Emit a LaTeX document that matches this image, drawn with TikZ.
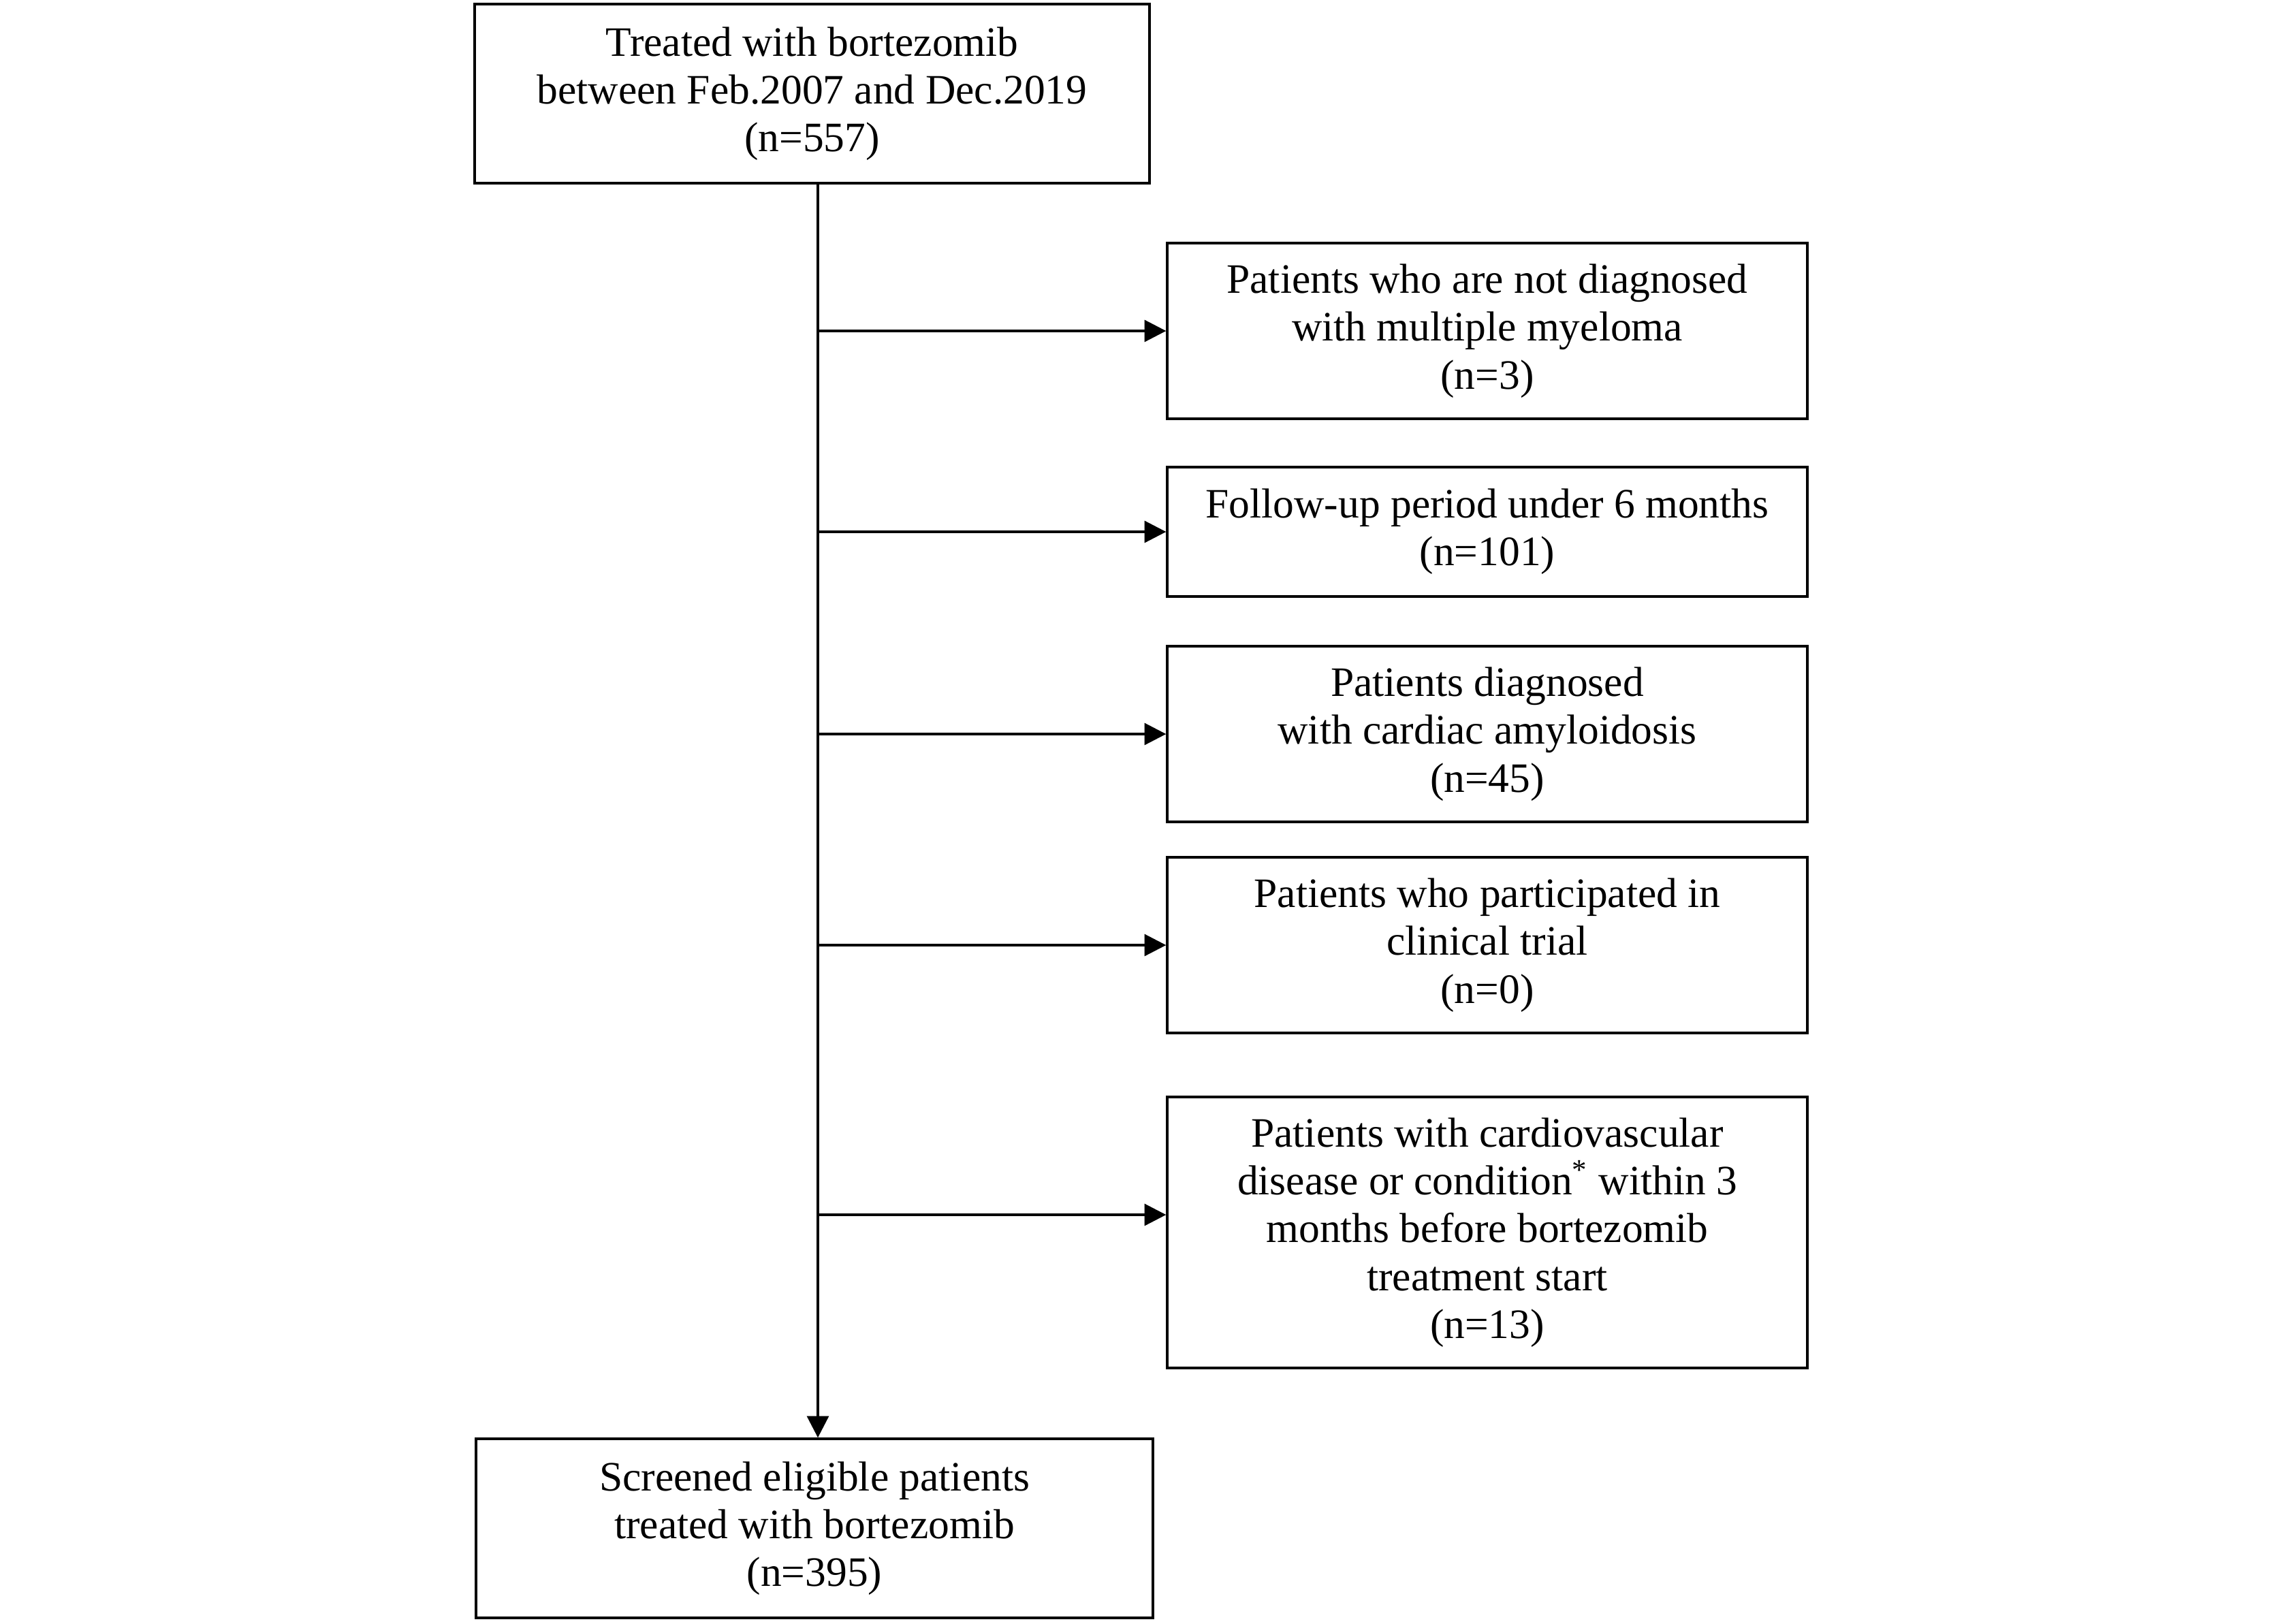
\documentclass[tikz,border=0pt]{standalone}
\usepackage{fontspec}
\setmainfont{Liberation Serif}
\usetikzlibrary{arrows.meta}
\tikzstyle{startstop} = [rectangle, text centered, align=center, draw=black, line width=0.95pt, inner sep=2pt, font=\fontsize{17.5}{20}\selectfont]
\tikzstyle{exclude} = [startstop, minimum width=9.4cm]
\tikzstyle{edge} = [line width=1.1pt, -{Triangle[length=9pt,width=9pt]}]

\begin{document}
\begin{tikzpicture}
\useasboundingbox (0,0) rectangle (33.51,-23.84);

\coordinate (spine) at (12.01,0);

\node (0) [startstop, minimum width=9.91cm, minimum height=2.63cm] at (11.925,-1.375) {Treated with bortezomib\\between Feb.2007 and Dec.2019\\(n=557)};
\node (1) [exclude, minimum height=2.58cm] at (21.84,-4.86) {Patients who are not diagnosed\\with multiple myeloma\\(n=3)};
\node (2) [exclude, minimum height=1.90cm] at (21.84,-7.81) {Follow-up period under 6 months\\(n=101)};
\node (3) [exclude, minimum height=2.58cm] at (21.84,-10.78) {Patients diagnosed\\with cardiac amyloidosis\\(n=45)};
\node (4) [exclude, minimum height=2.58cm] at (21.84,-13.88) {Patients who participated in\\clinical trial\\(n=0)};
\node (5) [exclude, minimum height=3.98cm] at (21.84,-18.10) {Patients with cardiovascular\\disease or condition\textsuperscript{*} within 3\\months before bortezomib\\treatment start\\(n=13)};
\node (6) [startstop, minimum width=9.94cm, minimum height=2.63cm] at (11.96,-22.445) {Screened eligible patients\\treated with bortezomib\\(n=395)};

\draw [edge] (0.south -| spine) -- (6.north -| spine);
\draw [edge] (1.west -| spine) -- (1.west);
\draw [edge] (2.west -| spine) -- (2.west);
\draw [edge] (3.west -| spine) -- (3.west);
\draw [edge] (4.west -| spine) -- (4.west);
\draw [edge] ([yshift=0.26cm]5.west -| spine) -- ([yshift=0.26cm]5.west);

\end{tikzpicture}
\end{document}
